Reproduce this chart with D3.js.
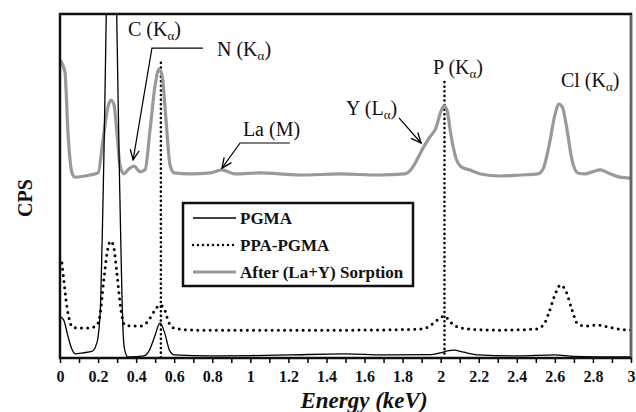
<!DOCTYPE html>
<html>
<head>
<meta charset="utf-8">
<script src="https://cdn.jsdelivr.net/npm/d3@7"></script>
<style>
  body { margin: 0; background: #fff; }
  svg { display: block; font-family: "Liberation Serif", "Times New Roman", serif; }
</style>
</head>
<body>
<svg id="chart" width="636" height="412"></svg>
<script>
// EDS spectra, CPS in arbitrary units (0-100 = full frame height)
const pgmaKeV = [0.005, 0.02, 0.04, 0.06, 0.08, 0.12, 0.17, 0.19, 0.2, 0.214, 0.226, 0.27, 0.315, 0.326, 0.331, 0.34, 0.357, 0.37, 0.44, 0.47, 0.5, 0.525, 0.55, 0.575, 0.6, 0.8, 1.0, 1.2, 1.5, 1.7, 1.95, 2.0, 2.03, 2.07, 2.12, 2.2, 2.4, 2.6, 2.7, 3.0];
const pgmaCps = [11.9, 11.0, 6.7, 2.9, 1.2, 1.5, 2.0, 3.8, 6.1, 16.9, 45.9, 160, 45.9, 16.9, 8.1, 2.3, 0.3, 0.3, 0.6, 2.3, 6.7, 10.2, 7.3, 2.3, 0.9, 0.6, 0.7, 0.9, 1.2, 0.9, 1.0, 1.5, 2.0, 2.3, 1.7, 0.9, 0.6, 0.9, 0.5, 0.3];

const ppaKeV = [0.01, 0.02, 0.035, 0.05, 0.065, 0.1, 0.15, 0.19, 0.21, 0.23, 0.25, 0.265, 0.28, 0.3, 0.32, 0.34, 0.38, 0.42, 0.46, 0.5, 0.525, 0.55, 0.57, 0.6, 0.7, 1.0, 1.5, 1.9, 1.95, 1.99, 2.02, 2.05, 2.09, 2.15, 2.3, 2.5, 2.54, 2.57, 2.6, 2.63, 2.66, 2.69, 2.72, 2.76, 2.82, 2.88, 2.94, 3.0];
const ppaCps = [27.6, 22.7, 15.4, 11.0, 9.0, 8.7, 8.7, 9.3, 12.5, 22.7, 31.4, 34.0, 32.8, 24.1, 14.0, 9.6, 9.3, 9.3, 10.5, 14.0, 15.4, 14.0, 10.5, 8.7, 8.1, 8.1, 8.1, 8.4, 9.6, 11.3, 12.2, 10.5, 9.0, 8.4, 8.1, 8.4, 9.6, 13.4, 18.3, 21.2, 19.2, 14.0, 9.9, 9.3, 9.6, 9.0, 8.4, 8.1];

const sorbKeV = [0.0, 0.026, 0.042, 0.063, 0.079, 0.158, 0.2, 0.226, 0.252, 0.268, 0.284, 0.3, 0.315, 0.336, 0.357, 0.389, 0.42, 0.447, 0.473, 0.5, 0.52, 0.536, 0.557, 0.578, 0.6, 0.683, 0.79, 0.85, 0.92, 1.05, 1.26, 1.47, 1.68, 1.81, 1.85, 1.88, 1.91, 1.94, 1.975, 2.0, 2.017, 2.033, 2.054, 2.08, 2.11, 2.15, 2.21, 2.31, 2.42, 2.51, 2.54, 2.57, 2.6, 2.62, 2.64, 2.66, 2.69, 2.72, 2.76, 2.795, 2.84, 2.88, 2.94, 3.0];
const sorbCps = [86.6, 83.1, 65.4, 53.8, 52.6, 53.2, 53.8, 63.4, 73.0, 75.0, 73.5, 64.8, 56.1, 53.5, 54.7, 55.8, 54.1, 54.7, 66.3, 79.4, 84.0, 82.3, 69.2, 56.1, 53.8, 53.5, 53.8, 54.7, 53.5, 53.8, 53.2, 53.5, 53.2, 53.5, 55.2, 58.1, 61.3, 64.0, 66.9, 71.5, 73.3, 72.1, 64.8, 58.1, 55.5, 54.7, 53.5, 52.9, 53.2, 53.5, 55.2, 61.9, 70.6, 73.8, 72.9, 67.7, 57.6, 53.8, 53.5, 54.1, 54.7, 53.8, 52.6, 52.3];

const xTicks = d3.range(0, 31).map(i => i / 10);
const seriesNames = ["PGMA", "PPA-PGMA", "After (La+Y) Sorption"];
const markerKeV = [0.53, 2.02];

const svg = d3.select("#chart");
const mLeft = 60, mRight = 631, mTop = 14, mBottom = 358;

const x = d3.scaleLinear().domain([0, 3]).range([mLeft, mRight]);
const y = d3.scaleLinear().domain([0, 100]).range([mBottom, mTop]);

const defs = svg.append("defs");
defs.append("clipPath").attr("id", "plot")
  .append("rect").attr("x", mLeft).attr("y", mTop).attr("width", mRight - mLeft).attr("height", mBottom - mTop);

const arrow = defs.append("marker")
  .attr("id", "arrow").attr("markerUnits", "userSpaceOnUse")
  .attr("viewBox", "-1 -6 12 12").attr("refX", 10).attr("refY", 0)
  .attr("markerWidth", 12).attr("markerHeight", 12).attr("orient", "auto");
arrow.append("path").attr("d", "M0,-4.5L10,0L0,4.5").attr("fill", "none").attr("stroke", "#000").attr("stroke-width", 1.3);

const line = d3.line().x(d => x(d[0])).y(d => y(d[1])).curve(d3.curveMonotoneX);
const zip = (a, b) => a.map((v, i) => [v, b[i]]);

const plot = svg.append("g").attr("clip-path", "url(#plot)");

// vertical reference lines at N and P peaks
const markerTop = [85.8, 80.2];
markerKeV.forEach((k, i) => {
  plot.append("line")
    .attr("x1", x(k)).attr("x2", x(k))
    .attr("y1", y(markerTop[i])).attr("y2", y(0))
    .attr("stroke", "#000").attr("stroke-width", 2.6)
    .attr("stroke-linecap", "round").attr("stroke-dasharray", "0 4.6");
});

const styles = [
  { stroke: "#000", width: 1.3, dash: null, cap: "butt" },
  { stroke: "#000", width: 3, dash: "0 6.2", cap: "round" },
  { stroke: "#999", width: 3.2, dash: null, cap: "butt" }
];

plot.append("path").datum(zip(sorbKeV, sorbCps)).attr("d", line)
  .attr("fill", "none").attr("stroke", styles[2].stroke).attr("stroke-width", styles[2].width);
plot.append("path").datum(zip(ppaKeV, ppaCps)).attr("d", line)
  .attr("fill", "none").attr("stroke", styles[1].stroke).attr("stroke-width", styles[1].width)
  .attr("stroke-linecap", "round").attr("stroke-dasharray", styles[1].dash);
plot.append("path").datum(zip(pgmaKeV, pgmaCps)).attr("d", line)
  .attr("fill", "none").attr("stroke", styles[0].stroke).attr("stroke-width", styles[0].width);

// frame
svg.append("rect").attr("x", mLeft).attr("y", mTop).attr("width", mRight - mLeft).attr("height", mBottom - mTop)
  .attr("fill", "none").attr("stroke", "#111").attr("stroke-width", 2.5);
svg.append("line").attr("x1", mRight).attr("x2", mRight).attr("y1", mTop + 1).attr("y2", mBottom - 1)
  .attr("stroke", "#666").attr("stroke-width", 2.2);

// x axis
const xAxis = svg.append("g").attr("transform", `translate(0,${mBottom})`)
  .call(d3.axisBottom(x).tickValues(xTicks).tickSize(5)
    .tickFormat(d => Math.round(d * 10) % 2 === 0 ? String(+d.toFixed(1)) : ""));
xAxis.select(".domain").remove();
xAxis.selectAll(".tick line").attr("stroke", "#000").attr("stroke-width", 1.5);
xAxis.selectAll(".tick text")
  .attr("y", 24).attr("dy", 0)
  .attr("font-family", "Liberation Serif, serif").attr("font-weight", "bold")
  .attr("font-size", 16).attr("fill", "#111");

svg.append("text").attr("x", 364).attr("y", 408).attr("text-anchor", "middle")
  .attr("font-size", 23).attr("font-weight", "bold").attr("font-style", "italic").attr("fill", "#111")
  .text("Energy (keV)");

svg.append("text").attr("transform", "translate(32,198) rotate(-90)").attr("text-anchor", "middle")
  .attr("font-size", 20).attr("font-weight", "bold").attr("fill", "#111")
  .text("CPS");

// peak labels (element + subscripted line)
function peakLabel(k, v, el, sub) {
  const t = svg.append("text").attr("x", x(k)).attr("y", y(v)).attr("font-size", 20).attr("fill", "#111");
  if (!sub) { t.text(el); return; }
  t.append("tspan").text(`${el} (${sub}`);
  t.append("tspan").attr("font-size", 13).attr("dy", 4).text("α");
  t.append("tspan").attr("dy", -4).text(")");
}
peakLabel(0.357, 93.6, "C", "K");
peakLabel(0.825, 87.8, "N", "K");
peakLabel(0.961, 64.5, "La (M)", null);
peakLabel(1.503, 70.6, "Y", "L");
peakLabel(1.96, 82.6, "P", "K");
peakLabel(2.632, 78.8, "Cl", "K");

// leaders with arrows
const leader = d3.line().x(d => x(d[0])).y(d => y(d[1]));
[
  [[0.751, 90.1], [0.483, 90.1], [0.384, 57.6]],
  [[1.208, 62.5], [0.946, 62.5], [0.851, 55.2]],
  [[1.781, 69.8], [1.897, 62.5]]
].forEach(pts => {
  svg.append("path").datum(pts).attr("d", leader)
    .attr("fill", "none").attr("stroke", "#000").attr("stroke-width", 1.2)
    .attr("marker-end", "url(#arrow)");
});

// legend
const lg = svg.append("g");
lg.append("rect").attr("x", 183).attr("y", 203).attr("width", 230).attr("height", 83)
  .attr("fill", "#fff").attr("stroke", "#111").attr("stroke-width", 2.5);
seriesNames.forEach((name, i) => {
  const yy = 218 + i * 27, s = styles[i];
  lg.append("line").attr("x1", 193).attr("x2", 236).attr("y1", yy).attr("y2", yy)
    .attr("stroke", s.stroke).attr("stroke-width", i === 1 ? 2.4 : s.width)
    .attr("stroke-linecap", s.cap).attr("stroke-dasharray", i === 1 ? "0 5" : null);
  lg.append("text").attr("x", 240).attr("y", yy + 5.5).attr("font-size", 17).attr("font-weight", "bold")
    .attr("fill", "#111").text(name);
});
</script>
</body>
</html>
